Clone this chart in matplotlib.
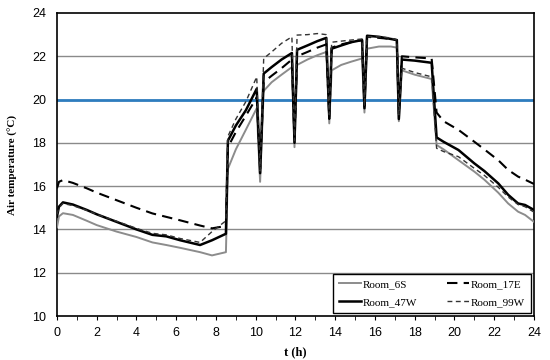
import matplotlib
matplotlib.use("Agg")
import matplotlib.pyplot as plt
from matplotlib.ticker import MultipleLocator

# time (h)
t = [0, 0.1, 0.3, 0.8, 1.5, 2, 3, 4, 4.8, 5.5, 6.2, 7.2, 7.8, 8.5, 8.6, 9.0, 9.5,
     10.05, 10.22, 10.4, 10.8, 11.3, 11.82, 11.95, 12.08, 12.6, 13.1, 13.55, 13.7,
     13.82, 14.3, 14.8, 15.35, 15.47, 15.6, 16.2, 16.8, 17.1, 17.2, 17.35, 18.0,
     18.85, 19.1, 19.45, 20.2, 21.0, 21.5, 22.2, 22.7, 23.2, 23.55, 24]

room_6S = [14.1, 14.6, 14.75, 14.67, 14.4, 14.2, 13.9, 13.65, 13.4, 13.28, 13.15, 12.95,
           12.8, 12.95, 16.8, 17.7, 18.6, 19.6, 16.2, 20.4, 20.8, 21.15, 21.5, 17.8, 21.6,
           21.85, 22.05, 22.2, 18.9, 21.35, 21.6, 21.75, 21.9, 19.4, 22.35, 22.45, 22.45,
           22.4, 19.0, 21.35, 21.15, 20.95, 17.9, 17.7, 17.2, 16.67, 16.3, 15.7, 15.2,
           14.82, 14.67, 14.35]

room_47W = [14.6, 15.05, 15.25, 15.15, 14.9, 14.7, 14.35, 14.0, 13.75, 13.68, 13.5, 13.28,
            13.5, 13.8, 18.1, 18.8, 19.5, 20.5, 16.6, 21.2, 21.5, 21.85, 22.15, 18.0, 22.3,
            22.5, 22.7, 22.85, 19.2, 22.35, 22.5, 22.65, 22.75, 19.6, 22.95, 22.9, 22.8,
            22.75, 19.1, 21.85, 21.8, 21.7, 18.25, 18.05, 17.67, 17.05, 16.7, 16.13, 15.6,
            15.2, 15.13, 14.9]

room_17E = [15.9, 16.2, 16.28, 16.15, 15.9, 15.7, 15.35, 15.0, 14.74, 14.58, 14.42, 14.18,
            14.05, 14.16, 17.8, 18.5, 19.25, 20.1, 16.8, 20.8, 21.1, 21.45, 21.85, 18.1,
            22.0, 22.2, 22.4, 22.55, 19.1, 22.4, 22.55, 22.65, 22.75, 19.7, 22.9, 22.85,
            22.8, 22.75, 19.3, 22.0, 21.95, 21.9, 19.4, 19.0, 18.6, 18.05, 17.7, 17.2,
            16.75, 16.44, 16.3, 16.1]

room_99W = [14.7, 15.0, 15.2, 15.1, 14.88, 14.7, 14.38, 14.05, 13.82, 13.75, 13.58, 13.4,
            13.9, 14.4, 18.3, 19.1, 19.9, 21.05, 16.7, 21.9, 22.2, 22.6, 22.9, 18.1, 22.98,
            23.0, 23.05, 23.0, 19.3, 22.65, 22.7, 22.75, 22.8, 19.7, 22.9, 22.9, 22.85,
            22.75, 19.3, 21.45, 21.25, 21.05, 17.75, 17.6, 17.36, 16.82, 16.5, 15.95, 15.5,
            15.15, 15.05, 14.8]

setpoint = 20
x_ticks = [0, 2, 4, 6, 8, 10, 12, 14, 16, 18, 20, 22, 24]
y_ticks = [10, 12, 14, 16, 18, 20, 22, 24]

fig = plt.figure(figsize=(5.5, 3.6), dpi=100)
ax = fig.add_axes([0.1036, 0.1222, 0.8673, 0.8417])

for yv in y_ticks[1:-1]:
    ax.axhline(yv, color="#8a8a8a", lw=1.0, zorder=1)
ax.axhline(setpoint, color="#2e7dbf", lw=2.0, zorder=2)

ax.plot(t, room_6S, color="#8c8c8c", lw=1.4, label="Room_6S", zorder=3)
ax.plot(t, room_47W, color="black", lw=1.8, label="Room_47W", zorder=4)
ax.plot(t, room_17E, color="black", lw=1.5, ls=(0, (5, 3)), label="Room_17E", zorder=4)
ax.plot(t, room_99W, color="#333333", lw=1.0, ls=(0, (3.5, 2.5)), label="Room_99W", zorder=4)

ax.set_xlim(0, 24)
ax.set_ylim(10, 24)
ax.set_xticks(x_ticks)
ax.set_yticks(y_ticks)
ax.xaxis.set_minor_locator(MultipleLocator(1))
ax.tick_params(axis="x", which="major", length=3, direction="out", labelsize=9, pad=5)
ax.tick_params(axis="x", which="minor", length=3, direction="out")
ax.tick_params(axis="y", length=0, labelsize=9, pad=8)
for lab in ax.get_xticklabels() + ax.get_yticklabels():
    lab.set_fontfamily("Liberation Sans")

for sp in ax.spines.values():
    sp.set_color("black")
    sp.set_linewidth(1.2)

ax.set_xlabel("t (h)", fontfamily="Liberation Serif", fontweight="bold", fontsize=9, labelpad=5)
ax.set_ylabel("Air temperature (\u00b0C)", fontfamily="Liberation Serif", fontweight="bold",
              fontsize=8, labelpad=10)

leg = ax.legend(loc="lower right", ncol=2, borderaxespad=0.3, fancybox=False,
                framealpha=1, edgecolor="black", handlelength=2.0, handletextpad=0.15,
                columnspacing=2.7, borderpad=0.5, labelspacing=0.75,
                prop={"family": "Liberation Serif", "size": 8})
leg.get_frame().set_linewidth(1.0)
leg.set_zorder(10)

fig.savefig("out.png", dpi=100)
